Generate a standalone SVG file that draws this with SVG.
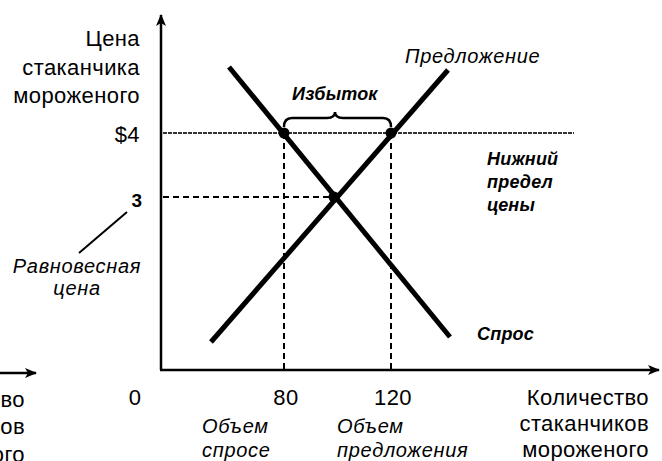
<svg xmlns="http://www.w3.org/2000/svg" width="662" height="461" viewBox="0 0 662 461">
<style>
text{font-family:"Liberation Sans",Arial,sans-serif;fill:#000}
.lbl{font-size:22px;letter-spacing:0.4px}
.it{font-size:20px;font-style:italic;letter-spacing:0.7px}
.bi{font-size:18px;font-style:italic;font-weight:bold;letter-spacing:0.2px}
.axis{stroke:#000;stroke-width:2.5;fill:none}
.curve{stroke:#000;stroke-width:5;fill:none;stroke-linecap:butt}
.dash{stroke:#000;stroke-width:2;stroke-dasharray:6 4;fill:none}
.dot{fill:#000}
</style>
<defs>
<marker id="ah" viewBox="0 0 12 10" refX="11" refY="5" markerWidth="12" markerHeight="10" markerUnits="userSpaceOnUse" orient="auto">
<path d="M0,0 L12,5 L0,10 L3,5 z" fill="#000"/>
</marker>
</defs>
<g id="connectors">
<line class="axis" x1="161" y1="370" x2="161" y2="15" marker-end="url(#ah)"/>
<line class="axis" x1="160" y1="370" x2="659" y2="370" marker-end="url(#ah)"/>
<line class="axis" x1="0" y1="373" x2="36" y2="373" marker-end="url(#ah)"/>
<line x1="163" y1="133" x2="574" y2="133" stroke="#333" stroke-width="2" stroke-dasharray="4 1"/>
<line class="dash" x1="163" y1="197" x2="334" y2="197"/>
<line class="dash" x1="284" y1="133" x2="284" y2="370"/>
<line class="dash" x1="391" y1="133" x2="391" y2="370"/>
<line class="curve" x1="229" y1="67" x2="450" y2="337"/>
<line class="curve" x1="211" y1="342" x2="448" y2="70"/>
<path d="M284,127 Q284,118 292,118 L327,118 Q335,118 335,112 Q335,118 343,118 L383,118 Q391,118 391,127" fill="none" stroke="#000" stroke-width="2.5"/>
<line x1="127" y1="212" x2="79" y2="253" stroke="#000" stroke-width="2"/>
</g>
<g id="dots">
<circle class="dot" cx="284" cy="133" r="5.5"/>
<circle class="dot" cx="391" cy="133" r="5.5"/>
<circle class="dot" cx="334" cy="197" r="5.5"/>
</g>
<g id="y-label">
<text class="lbl" x="140" y="46" text-anchor="end">Цена</text>
<text class="lbl" x="140" y="75" text-anchor="end">стаканчика</text>
<text class="lbl" x="140" y="103" text-anchor="end">мороженого</text>
</g>
<g id="ticks-y">
<text class="lbl" x="140" y="142" text-anchor="end">$4</text>
<text x="142" y="207" text-anchor="end" font-size="19" font-weight="bold">3</text>
</g>
<g id="eq-label">
<text class="it" x="77" y="273" text-anchor="middle">Равновесная</text>
<text class="it" x="77" y="295" text-anchor="middle">цена</text>
</g>
<g id="ticks-x">
<text class="lbl" x="135" y="405" text-anchor="middle">0</text>
<text class="lbl" x="286" y="405" text-anchor="middle">80</text>
<text class="lbl" x="393" y="405" text-anchor="middle">120</text>
</g>
<g id="demand-qty">
<text class="it" x="202" y="433">Объем</text>
<text class="it" x="202" y="457">спросе</text>
</g>
<g id="supply-qty">
<text class="it" x="337" y="433">Объем</text>
<text class="it" x="337" y="457">предложения</text>
</g>
<g id="x-label">
<text class="lbl" x="649" y="405" text-anchor="end">Количество</text>
<text class="lbl" x="649" y="431" text-anchor="end">стаканчиков</text>
<text class="lbl" x="649" y="457" text-anchor="end">мороженого</text>
</g>
<g id="x-label-left">
<text class="lbl" x="25" y="407" text-anchor="end">во</text>
<text class="lbl" x="25" y="434" text-anchor="end">ов</text>
<text class="lbl" x="25" y="462" text-anchor="end">ого</text>
</g>
<g id="supply-label"><text class="it" x="405" y="63">Предложение</text></g>
<g id="surplus-label"><text class="bi" x="292" y="100">Избыток</text></g>
<g id="floor-label">
<text class="bi" x="487" y="165">Нижний</text>
<text class="bi" x="487" y="188">предел</text>
<text class="bi" x="487" y="211">цены</text>
</g>
<g id="demand-label"><text class="bi" x="477" y="340">Спрос</text></g>
</svg>
